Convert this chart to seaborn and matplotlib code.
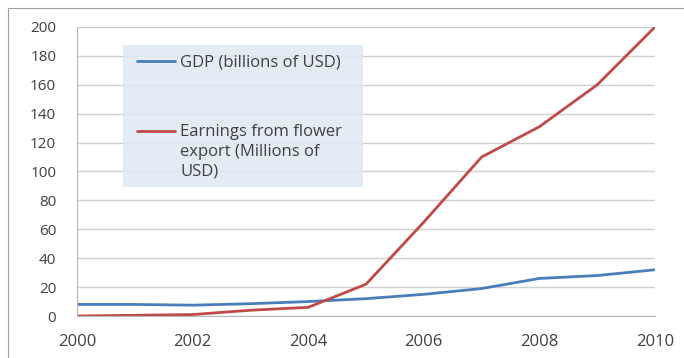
import matplotlib
matplotlib.use("Agg")
import pandas as pd
import matplotlib.pyplot as plt
import seaborn as sns
from matplotlib.patches import Rectangle
from matplotlib.legend_handler import HandlerLine2D

# Values
years = [2000, 2001, 2002, 2003, 2004, 2005, 2006, 2007, 2008, 2009, 2010]
gdp = [8, 8, 7.5, 8.5, 10, 12, 15, 19, 26, 28, 32]
flower = [0, 0.5, 1, 4, 6, 22, 65, 110, 131, 160, 200]

gdp_label = 'GDP (billions of USD)'
flower_label = 'Earnings from flower\nexport (Millions of\nUSD)'

df = pd.DataFrame({'Year': years, gdp_label: gdp, flower_label: flower})
df_long = df.melt(id_vars='Year', var_name='Series', value_name='Value')


class ShiftedLine(HandlerLine2D):
    # move the legend line up so it sits next to the first text line
    def __init__(self, dy, **kw):
        super().__init__(**kw)
        self.dy = dy

    def create_artists(self, *args, **kwargs):
        artists = super().create_artists(*args, **kwargs)
        for a in artists:
            a.set_ydata([y + self.dy for y in a.get_ydata()])
        return artists


sns.set_style('white')
plt.rcParams['font.family'] = ['Open Sans', 'DejaVu Sans']

fig = plt.figure(figsize=(6.84, 3.58), dpi=100)
ax = fig.add_axes([0.1126, 0.1173, 0.845, 0.8073])

# outer chart border like the Excel frame
fig.patches.append(Rectangle((8 / 684, -0.1), 1.2, (358 - 8) / 358 + 0.1,
                             transform=fig.transFigure, fill=False,
                             edgecolor='#a0a0a0', linewidth=0.8))

sns.lineplot(data=df_long, x='Year', y='Value', hue='Series', ax=ax,
             palette={gdp_label: '#4a7ebb', flower_label: '#be4b48'},
             linewidth=2, legend=False)

ax.set_xlim(2000, 2010)
ax.set_ylim(0, 200)
ax.set_xticks(range(2000, 2011, 2))
ax.set_yticks(range(0, 201, 20))
ax.set_xlabel('')
ax.set_ylabel('')
ax.grid(axis='y', color='#d0d0d0', linewidth=1)
ax.set_axisbelow(True)
for side in ['top', 'right']:
    ax.spines[side].set_visible(False)
ax.spines['left'].set_color('#b8b8b8')
ax.spines['bottom'].set_color('#b8b8b8')
ax.tick_params(axis='y', labelsize=11, colors='#404040', length=0, pad=15)
ax.tick_params(axis='x', labelsize=12, labelcolor='#404040', length=4,
               color='#c8c8c8', direction='inout', pad=11)

# legend box
ax.add_patch(Rectangle((0.08, 0.446), 0.415, 0.492, transform=ax.transAxes,
                       facecolor='#dfe8f3', edgecolor='none', alpha=0.85, zorder=1.5))
h_gdp = plt.Line2D([], [], color='#4a7ebb', linewidth=2)
h_flower = plt.Line2D([], [], color='#be4b48', linewidth=2)
leg = ax.legend([h_gdp, h_flower], [gdp_label, flower_label], loc='upper left',
                bbox_to_anchor=(0.104, 0.905), frameon=False, fontsize=12,
                handlelength=2.3, handletextpad=0.3, labelspacing=3.2,
                borderpad=0, borderaxespad=0, labelcolor='#404040',
                handler_map={h_flower: ShiftedLine(dy=15)})
leg.get_texts()[1].set_linespacing(1.33)

fig.savefig('out.png', dpi=100)
